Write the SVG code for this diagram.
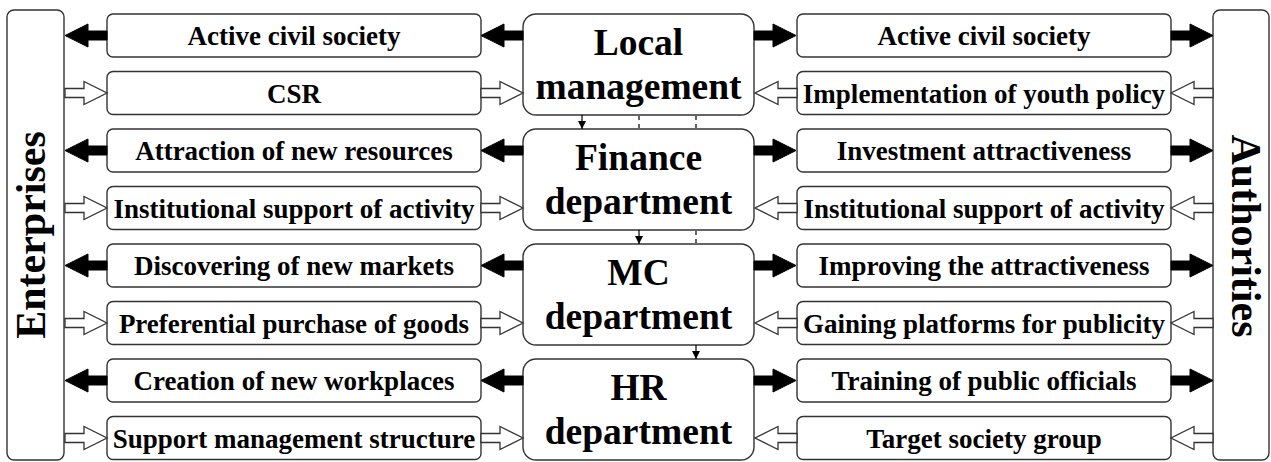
<svg xmlns="http://www.w3.org/2000/svg" width="1271" height="462" viewBox="0 0 1271 462">
<defs>
<style>
.box{fill:#fff;stroke:#333;stroke-width:1.4}
text{font-family:'Liberation Serif','Times New Roman','DejaVu Serif',serif;font-weight:700;font-size:27px;fill:#000;text-anchor:middle}
.c{font-size:37.5px}
.v{font-size:42px}
.fa{fill:#000;stroke:#000;stroke-width:1}
.ha{fill:#fff;stroke:#333;stroke-width:1.3}
.ln{stroke:#000;stroke-width:1.2;fill:none}
.dl{stroke:#000;stroke-width:1.2;fill:none;stroke-dasharray:4 4}
</style>
<path id="arr" d="M0,-4.5H19V-11.5L42,0L19,11.5V4.5H0Z"/>
<marker id="mk" viewBox="0 0 10 10" refX="10" refY="5" markerWidth="8" markerHeight="8" markerUnits="userSpaceOnUse" orient="auto"><path d="M0,0L10,5L0,10Z" fill="#000"/></marker>
</defs>
<rect width="1271" height="462" fill="#fff"/>

<g id="enterprises"><rect class="box" x="7" y="10" width="57" height="450" rx="7"/><text class="v" transform="translate(45,235) rotate(-90)">Enterprises</text></g>
<g id="authorities"><rect class="box" x="1213" y="10" width="56" height="450" rx="7"/><text class="v" transform="translate(1232,236) rotate(90)">Authorities</text></g>

<g id="local"><rect class="box" x="523" y="14" width="231" height="101" rx="13"/><text class="c" x="638.5" y="55">Local</text><text class="c" x="638.5" y="99">management</text></g>
<g id="finance"><rect class="box" x="523" y="129" width="231" height="101" rx="13"/><text class="c" x="638.5" y="170">Finance</text><text class="c" x="638.5" y="214">department</text></g>
<g id="mc"><rect class="box" x="523" y="244" width="231" height="101" rx="13"/><text class="c" x="638.5" y="285">MC</text><text class="c" x="638.5" y="329">department</text></g>
<g id="hr"><rect class="box" x="523" y="359" width="231" height="101" rx="13"/><text class="c" x="638.5" y="400">HR</text><text class="c" x="638.5" y="444">department</text></g>

<g id="l1"><rect class="box" x="107" y="14" width="374" height="43" rx="6"/><text x="294" y="45">Active civil society</text></g>
<g id="l2"><rect class="box" x="107" y="71.5" width="374" height="43" rx="6"/><text x="294" y="102.5">CSR</text></g>
<g id="l3"><rect class="box" x="107" y="129" width="374" height="43" rx="6"/><text x="294" y="160">Attraction of new resources</text></g>
<g id="l4"><rect class="box" x="107" y="186.5" width="374" height="43" rx="6"/><text x="294" y="217.5">Institutional support of activity</text></g>
<g id="l5"><rect class="box" x="107" y="244" width="374" height="43" rx="6"/><text x="294" y="275">Discovering of new markets</text></g>
<g id="l6"><rect class="box" x="107" y="301.5" width="374" height="43" rx="6"/><text x="294" y="332.5">Preferential purchase of goods</text></g>
<g id="l7"><rect class="box" x="107" y="359" width="374" height="43" rx="6"/><text x="294" y="390">Creation of new workplaces</text></g>
<g id="l8"><rect class="box" x="107" y="416.5" width="374" height="43" rx="6"/><text x="294" y="447.5">Support management structure</text></g>

<g id="r1"><rect class="box" x="797" y="14" width="374" height="43" rx="6"/><text x="984" y="45">Active civil society</text></g>
<g id="r2"><rect class="box" x="797" y="71.5" width="374" height="43" rx="6"/><text x="984" y="102.5">Implementation of youth policy</text></g>
<g id="r3"><rect class="box" x="797" y="129" width="374" height="43" rx="6"/><text x="984" y="160">Investment attractiveness</text></g>
<g id="r4"><rect class="box" x="797" y="186.5" width="374" height="43" rx="6"/><text x="984" y="217.5">Institutional support of activity</text></g>
<g id="r5"><rect class="box" x="797" y="244" width="374" height="43" rx="6"/><text x="984" y="275">Improving the attractiveness</text></g>
<g id="r6"><rect class="box" x="797" y="301.5" width="374" height="43" rx="6"/><text x="984" y="332.5">Gaining platforms for publicity</text></g>
<g id="r7"><rect class="box" x="797" y="359" width="374" height="43" rx="6"/><text x="984" y="390">Training of public officials</text></g>
<g id="r8"><rect class="box" x="797" y="416.5" width="374" height="43" rx="6"/><text x="984" y="447.5">Target society group</text></g>

<g id="connectors">
<use href="#arr" class="fa" transform="translate(107,35.5) scale(-1,1)"/>
<use href="#arr" class="fa" transform="translate(523,35.5) scale(-1,1)"/>
<use href="#arr" class="fa" transform="translate(754,35.5)"/>
<use href="#arr" class="fa" transform="translate(1171,35.5)"/>
<use href="#arr" class="fa" transform="translate(107,150.5) scale(-1,1)"/>
<use href="#arr" class="fa" transform="translate(523,150.5) scale(-1,1)"/>
<use href="#arr" class="fa" transform="translate(754,150.5)"/>
<use href="#arr" class="fa" transform="translate(1171,150.5)"/>
<use href="#arr" class="fa" transform="translate(107,265.5) scale(-1,1)"/>
<use href="#arr" class="fa" transform="translate(523,265.5) scale(-1,1)"/>
<use href="#arr" class="fa" transform="translate(754,265.5)"/>
<use href="#arr" class="fa" transform="translate(1171,265.5)"/>
<use href="#arr" class="fa" transform="translate(107,380.5) scale(-1,1)"/>
<use href="#arr" class="fa" transform="translate(523,380.5) scale(-1,1)"/>
<use href="#arr" class="fa" transform="translate(754,380.5)"/>
<use href="#arr" class="fa" transform="translate(1171,380.5)"/>

<use href="#arr" class="ha" transform="translate(65,93)"/>
<use href="#arr" class="ha" transform="translate(481,93)"/>
<use href="#arr" class="ha" transform="translate(797,93) scale(-1,1)"/>
<use href="#arr" class="ha" transform="translate(1213,93) scale(-1,1)"/>
<use href="#arr" class="ha" transform="translate(65,208)"/>
<use href="#arr" class="ha" transform="translate(481,208)"/>
<use href="#arr" class="ha" transform="translate(797,208) scale(-1,1)"/>
<use href="#arr" class="ha" transform="translate(1213,208) scale(-1,1)"/>
<use href="#arr" class="ha" transform="translate(65,323)"/>
<use href="#arr" class="ha" transform="translate(481,323)"/>
<use href="#arr" class="ha" transform="translate(797,323) scale(-1,1)"/>
<use href="#arr" class="ha" transform="translate(1213,323) scale(-1,1)"/>
<use href="#arr" class="ha" transform="translate(65,438)"/>
<use href="#arr" class="ha" transform="translate(481,438)"/>
<use href="#arr" class="ha" transform="translate(797,438) scale(-1,1)"/>
<use href="#arr" class="ha" transform="translate(1213,438) scale(-1,1)"/>

<line class="ln" x1="582" y1="115" x2="582" y2="129" marker-end="url(#mk)"/>
<line class="dl" x1="639" y1="116" x2="639" y2="129"/>
<line class="dl" x1="696" y1="116" x2="696" y2="129"/>
<line class="ln" x1="639" y1="230" x2="639" y2="244" marker-end="url(#mk)"/>
<line class="dl" x1="696" y1="231" x2="696" y2="244"/>
<line class="ln" x1="696" y1="345" x2="696" y2="359" marker-end="url(#mk)"/>
</g>
</svg>
